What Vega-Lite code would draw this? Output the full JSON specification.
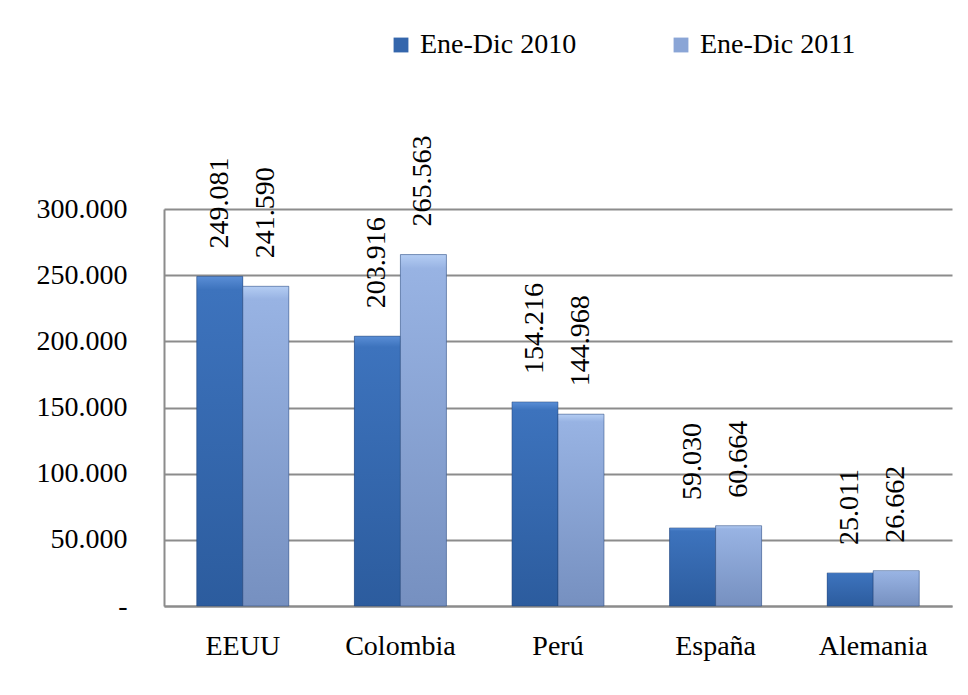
{
  "$schema": "https://vega.github.io/schema/vega-lite/v6.json",
  "width": 788,
  "height": 397,
  "autosize": {"type": "none"},
  "padding": {"left": 164, "top": 209, "right": 16, "bottom": 89},
  "background": "white",
  "config": {
    "view": {"stroke": null},
    "font": "Liberation Serif",
    "text": {"font": "Liberation Serif"},
    "legend": {"labelFont": "Liberation Serif", "titleFont": "Liberation Serif"},
    "locale": {"number": {"decimal": ",", "thousands": ".", "grouping": [3], "currency": ["", ""]}}
  },
  "data": {
    "values": [
      {"country": "EEUU", "year": "Ene-Dic 2010", "value": 249081},
      {"country": "EEUU", "year": "Ene-Dic 2011", "value": 241590},
      {"country": "Colombia", "year": "Ene-Dic 2010", "value": 203916},
      {"country": "Colombia", "year": "Ene-Dic 2011", "value": 265563},
      {"country": "Perú", "year": "Ene-Dic 2010", "value": 154216},
      {"country": "Perú", "year": "Ene-Dic 2011", "value": 144968},
      {"country": "España", "year": "Ene-Dic 2010", "value": 59030},
      {"country": "España", "year": "Ene-Dic 2011", "value": 60664},
      {"country": "Alemania", "year": "Ene-Dic 2010", "value": 25011},
      {"country": "Alemania", "year": "Ene-Dic 2011", "value": 26662}
    ]
  },
  "encoding": {
    "x": {
      "field": "country", "type": "nominal", "sort": null,
      "scale": {"paddingInner": 0.416, "paddingOuter": 0.208},
      "axis": {"title": null, "labelAngle": 0, "ticks": false, "domainColor": "#8c8c8c", "domainWidth": 2,
               "labelFontSize": 28, "labelColor": "black", "labelPadding": 26, "labelFont": "Liberation Serif"}
    },
    "xOffset": {"field": "year", "type": "nominal", "scale": {"paddingInner": 0, "paddingOuter": 0}},
    "y": {
      "field": "value", "type": "quantitative",
      "scale": {"domain": [0, 300000], "nice": false},
      "axis": {"title": null, "values": [0, 50000, 100000, 150000, 200000, 250000, 300000],
               "format": ",.0f", "labelExpr": "datum.value == 0 ? '-\u00a0\u00a0\u00a0' : datum.label",
               "ticks": false, "domainColor": "#8c8c8c", "domainWidth": 2,
               "grid": true, "gridColor": "#8c8c8c", "gridWidth": 2,
               "labelFontSize": 28, "labelColor": "black", "labelPadding": 37, "labelFont": "Liberation Serif"}
    }
  },
  "layer": [
    {
      "mark": {"type": "bar"},
      "encoding": {
        "color": {
          "field": "year", "type": "nominal",
          "scale": {"range": ["#3466ac", "#8aa5d6"]},
          "legend": {"title": null, "orient": "none", "direction": "horizontal", "legendX": 223, "legendY": -178,
                     "symbolType": "square", "symbolSize": 220, "symbolStrokeWidth": 0, "labelFontSize": 28,
                     "labelFont": "Liberation Serif", "labelColor": "black", "labelOffset": 5, "columnPadding": 90, "padding": 0}
        }
      }
    },
    {
      "mark": {"type": "bar", "stroke": "#1f3f70", "strokeWidth": 1, "strokeOpacity": 0.45},
      "encoding": {
        "fill": {
          "condition": {
            "test": "datum.year == 'Ene-Dic 2010'",
            "value": {"gradient": "linear", "x1": 0, "y1": 0, "x2": 0, "y2": 1,
                      "stops": [{"offset": 0, "color": "#5a8ed6"}, {"offset": 0.04, "color": "#3d73bd"}, {"offset": 1, "color": "#2c5c9e"}]}
          },
          "value": {"gradient": "linear", "x1": 0, "y1": 0, "x2": 0, "y2": 1,
                    "stops": [{"offset": 0, "color": "#b4cdf3"}, {"offset": 0.04, "color": "#98b3e3"}, {"offset": 1, "color": "#7690c0"}]}
        }
      }
    },
    {
      "mark": {"type": "text", "angle": 270, "align": "left", "baseline": "middle", "dx": 28,
               "fontSize": 28, "font": "Liberation Serif", "color": "black"},
      "encoding": {
        "text": {"field": "value", "type": "quantitative", "format": ",.0f"}
      }
    }
  ]
}
